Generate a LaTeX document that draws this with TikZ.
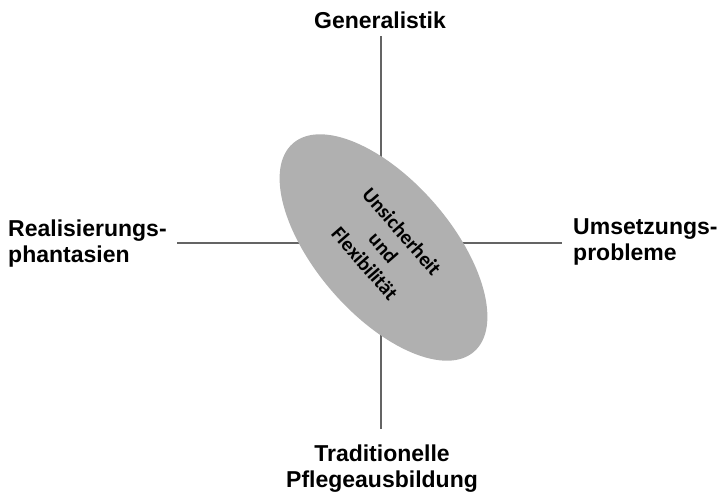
\documentclass[tikz,border=0pt]{standalone}
\usepackage{fontspec}
\setmainfont{Liberation Sans}
\newfontfamily\calib{Carlito}
\usetikzlibrary{shapes.geometric}
\definecolor{axisgray}{RGB}{100,100,100}
\definecolor{ellgray}{RGB}{176,176,176}
\tikzset{
  axis/.style={draw=axisgray,line width=1.4pt},
  lbl/.style={font=\bfseries\fontsize{23}{25.5}\selectfont,inner sep=0pt},
  blob/.style={ellipse,fill=ellgray,minimum width=276pt,minimum height=135pt,inner sep=0pt,
    font=\calib\bfseries\fontsize{20.5}{24.5}\selectfont,align=center}
}
\begin{document}
\begin{tikzpicture}[x=1pt,y=-1pt]
\useasboundingbox (0,0) rectangle (721,491);
\coordinate (top) at (381,36);
\coordinate (bot) at (381,429);
\coordinate (lft) at (177,243);
\coordinate (rgt) at (562,243);
\draw[axis] (top) -- (bot);
\draw[axis] (lft) -- (rgt);
\node[blob,rotate=-49] (core) at (383.5,247.5) {Unsicherheit\\und\\Flexibilität};
\node[lbl,anchor=base] (gen) at (380,28) {Generalistik};
\node[lbl,anchor=base west,align=left] (real) at (8,262) {Realisierungs-\\phantasien};
\node[lbl,anchor=base west,align=left] (ums) at (573,260) {Umsetzungs-\\probleme};
\node[lbl,anchor=base,align=center] (trad) at (382,487) {Traditionelle\\Pflegeausbildung};
\end{tikzpicture}
\end{document}
